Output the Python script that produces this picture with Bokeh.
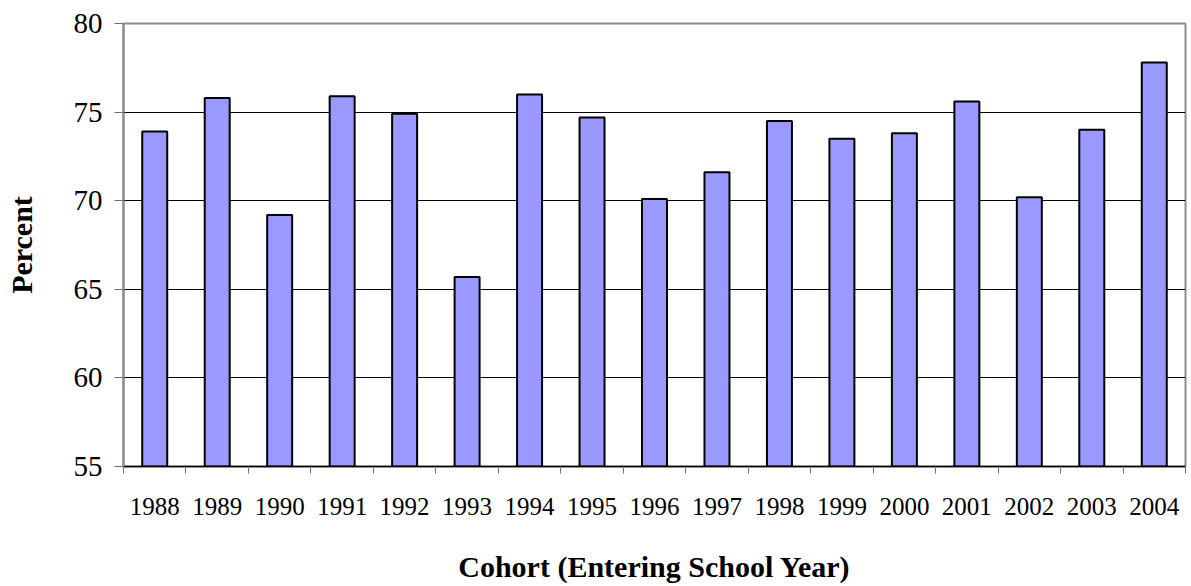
from bokeh.plotting import figure
from bokeh.models import (Range1d, LinearAxis, FixedTicker, ColumnDataSource)
from bokeh.embed import file_html
from bokeh.resources import INLINE

years = ["1988", "1989", "1990", "1991", "1992", "1993", "1994", "1995", "1996",
         "1997", "1998", "1999", "2000", "2001", "2002", "2003", "2004"]
percent = [73.9, 75.8, 69.2, 75.9, 74.9, 65.7, 76.0, 74.7, 70.1, 71.6, 74.5,
           73.5, 73.8, 75.6, 70.2, 74.0, 77.8]
y_ticks = [55, 60, 65, 70, 75, 80]
y_title = "Percent"
x_title = "Cohort (Entering School Year)"

FONT = "Liberation Serif"
BAR_FILL = "#9999FF"
FRAME_GRAY = "#8c8c8c"
TICK_GRAY = "#707070"

n = len(years)
centers = [i + 0.5 for i in range(n)]
edges = list(range(n + 1))

src = ColumnDataSource(data=dict(x=centers, pct=percent, year=years))

p = figure(x_range=Range1d(0, n),
           y_range=Range1d(y_ticks[0], y_ticks[-1]),
           width=1190, height=585, output_backend="svg",
           toolbar_location=None, x_axis_location=None,
           min_border_left=123, min_border_right=5,
           min_border_top=23, min_border_bottom=118)

p.background_fill_color = "white"
p.border_fill_color = "white"
p.outline_line_color = FRAME_GRAY
p.outline_line_width = 2
p.xgrid.visible = False

# Bars
p.vbar(x="x", top="pct", bottom=y_ticks[0], width=0.4, source=src,
       fill_color=BAR_FILL, line_color="black", line_width=2)

# Y axis
yax = p.yaxis[0]
yax.ticker = FixedTicker(ticks=y_ticks)
yax.major_tick_out = 9
yax.major_tick_in = 0
yax.minor_tick_out = 0
yax.minor_tick_in = 0
yax.major_tick_line_color = TICK_GRAY
yax.major_tick_line_width = 1
yax.axis_line_color = FRAME_GRAY
yax.axis_line_width = 2
yax.major_label_text_font = FONT
yax.major_label_text_font_size = "29px"
yax.major_label_text_color = "black"
yax.major_label_standoff = 12
yax.axis_label = y_title
yax.axis_label_text_font = FONT
yax.axis_label_text_font_size = "30px"
yax.axis_label_text_font_style = "bold"
yax.axis_label_text_color = "black"
yax.axis_label_standoff = 33

p.ygrid.grid_line_color = "black"
p.ygrid.grid_line_width = 1

# X axis: labels at bar centres, tick marks (minor) at category boundaries
label_axis = LinearAxis(ticker=FixedTicker(ticks=centers, minor_ticks=edges),
                        major_label_overrides={c: y for c, y in zip(centers, years)},
                        major_tick_line_color=None,
                        major_tick_out=0, major_tick_in=0,
                        minor_tick_out=7, minor_tick_in=0,
                        minor_tick_line_color=TICK_GRAY,
                        minor_tick_line_width=1,
                        axis_line_color="black", axis_line_width=1.5,
                        major_label_text_font=FONT,
                        major_label_text_font_size="25px",
                        major_label_text_color="black",
                        major_label_standoff=24,
                        axis_label=x_title,
                        axis_label_text_font=FONT,
                        axis_label_text_font_size="30px",
                        axis_label_text_font_style="bold",
                        axis_label_text_color="black",
                        axis_label_standoff=32)
p.add_layout(label_axis, "below")

open("out.html", "w").write(file_html(p, INLINE))
